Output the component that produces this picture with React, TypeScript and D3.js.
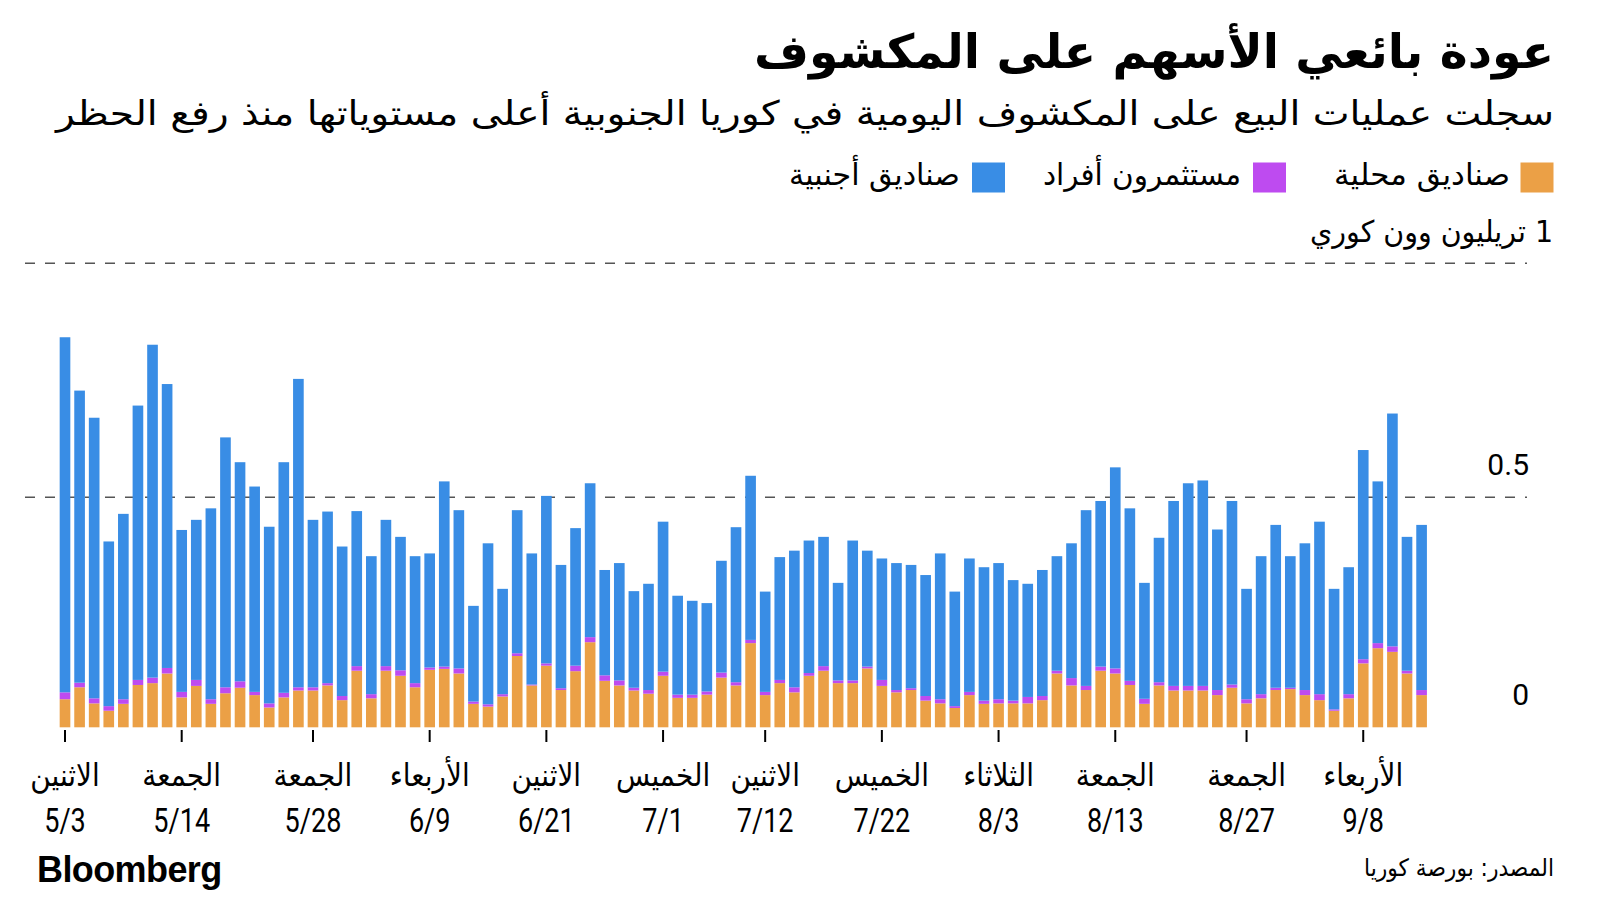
import React from "react";
import * as d3 from "d3";

const dates = [
  "5/3","5/4","5/6","5/7","5/10","5/11","5/12","5/13","5/14","5/17","5/18","5/20","5/21","5/24","5/25","5/26","5/27","5/28","5/31",
  "6/1","6/2","6/3","6/4","6/7","6/8","6/9","6/10","6/11","6/14","6/15","6/16","6/17","6/18","6/21","6/22","6/23","6/24","6/25","6/28","6/29","6/30",
  "7/1","7/2","7/5","7/6","7/7","7/8","7/9","7/12","7/13","7/14","7/15","7/16","7/19","7/20","7/21","7/22","7/23","7/26","7/27","7/28","7/29","7/30",
  "8/2","8/3","8/4","8/5","8/6","8/9","8/10","8/11","8/12","8/13","8/17","8/18","8/19","8/20","8/23","8/24","8/25","8/26","8/27","8/30","8/31",
  "9/1","9/2","9/3","9/6","9/7","9/8","9/9","9/10","9/13","9/14"
];

// صناديق محلية (domestic funds), 1 trillion won
const domestic = [
  0.061,0.087,0.052,0.036,0.051,0.092,0.096,0.117,0.065,0.090,0.051,0.074,0.086,0.070,0.043,0.065,0.080,0.080,0.091,
  0.059,0.123,0.063,0.123,0.112,0.087,0.125,0.127,0.117,0.051,0.045,0.067,0.155,0.091,0.134,0.081,0.122,0.185,0.101,0.091,0.080,
  0.073,0.112,0.064,0.064,0.071,0.108,0.091,0.183,0.070,0.096,0.076,0.112,0.123,0.096,0.096,0.128,0.090,0.076,0.081,0.058,0.052,0.042,
  0.070,0.051,0.052,0.052,0.052,0.059,0.117,0.091,0.081,0.123,0.117,0.092,0.051,0.091,0.080,0.080,0.080,0.070,0.086,0.052,0.063,
  0.081,0.083,0.070,0.059,0.036,0.063,0.139,0.172,0.164,0.117,0.070
];
// مستثمرون أفراد (individual investors)
const individual = [
  0.015,0.010,0.011,0.010,0.010,0.011,0.012,0.012,0.012,0.013,0.010,0.013,0.014,0.007,0.009,0.010,0.007,0.007,0.005,
  0.009,0.010,0.009,0.010,0.012,0.009,0.005,0.005,0.011,0.005,0.005,0.005,0.006,0.002,0.005,0.004,0.012,0.011,0.012,0.011,0.006,
  0.008,0.009,0.007,0.007,0.007,0.011,0.007,0.007,0.007,0.007,0.011,0.006,0.010,0.006,0.006,0.004,0.013,0.005,0.004,0.010,0.009,0.004,
  0.007,0.007,0.009,0.006,0.014,0.009,0.006,0.016,0.009,0.009,0.011,0.009,0.011,0.007,0.010,0.010,0.010,0.011,0.007,0.009,0.009,
  0.005,0.003,0.011,0.013,0.003,0.009,0.009,0.011,0.012,0.006,0.011
];
// صناديق أجنبية (foreign funds)
const foreign = [
  0.766,0.631,0.607,0.358,0.403,0.593,0.718,0.613,0.352,0.348,0.415,0.541,0.475,0.446,0.384,0.500,0.666,0.364,0.373,
  0.325,0.337,0.300,0.318,0.290,0.276,0.248,0.402,0.344,0.208,0.350,0.229,0.311,0.285,0.364,0.268,0.299,0.334,0.229,0.255,0.210,
  0.231,0.326,0.215,0.204,0.192,0.243,0.337,0.356,0.218,0.267,0.297,0.288,0.281,0.212,0.304,0.252,0.264,0.276,0.268,0.263,0.317,0.249,
  0.290,0.290,0.296,0.262,0.246,0.274,0.249,0.293,0.382,0.360,0.436,0.375,0.252,0.314,0.402,0.440,0.446,0.349,0.399,0.240,0.300,
  0.354,0.286,0.319,0.375,0.262,0.276,0.453,0.351,0.503,0.291,0.359
];

const tickDates = ["5/3","5/14","5/28","6/9","6/21","7/1","7/12","7/22","8/3","8/13","8/27","9/8"];
const tickDays = ["الاثنين","الجمعة","الجمعة","الأربعاء","الاثنين","الخميس","الاثنين","الخميس","الثلاثاء","الجمعة","الجمعة","الأربعاء"];
const yTicks = [0, 0.5, 1];
const yTickLabels = ["0", "0.5", "1 تريليون وون كوري"];

const seriesKeys = ["domestic", "individual", "foreign"];
const seriesNames = ["صناديق محلية", "مستثمرون أفراد", "صناديق أجنبية"];
const seriesColors = ["#eba046", "#be4bf0", "#398de5"];

const title = "عودة بائعي الأسهم على المكشوف";
const subtitle = "سجلت عمليات البيع على المكشوف اليومية في كوريا الجنوبية أعلى مستوياتها منذ رفع الحظر";
const source = "المصدر: بورصة كوريا";

const AR = "'DejaVu Sans Condensed', 'DejaVu Sans', sans-serif";
const NUM = "Roboto, 'Liberation Sans', sans-serif";

export default function App() {
  const n = dates.length;
  const rows = dates.map((d, i) => ({
    date: d,
    domestic: domestic[i],
    individual: individual[i],
    foreign: foreign[i],
  }));
  const stacked = d3.stack<any>().keys(seriesKeys)(rows);

  const step = 14.587;
  const x0 = 65 - step / 2;
  const x = d3
    .scaleBand<string>()
    .domain(dates)
    .range([x0, x0 + n * step])
    .paddingInner(0.27)
    .paddingOuter(0.135);
  const y = d3.scaleLinear().domain([0, 0.5, 1]).range([727.3, 497.3, 263.3]);

  return (
    <svg
      width={1600}
      height={900}
      style={{ position: "absolute", left: 0, top: 0, background: "#fff" }}
    >
      <rect x={0} y={0} width={1600} height={900} fill="#fff" />
      {/* Title */}
      <text x={1554} y={68} textAnchor="end" fontFamily={AR} fontWeight="bold" fontSize={47}
        textLength={800} lengthAdjust="spacingAndGlyphs" fill="#000">{title}</text>
      <text x={1554} y={125} textAnchor="end" fontFamily={AR} fontSize={34}
        textLength={1498} lengthAdjust="spacingAndGlyphs" fill="#000">{subtitle}</text>

      {/* Legend */}
      {[
        { sq: 1520.5, tx: 1510, w: 176 },
        { sq: 1253, tx: 1241, w: 198 },
        { sq: 972, tx: 960, w: 171 },
      ].map((p, i) => (
        <g key={i}>
          <rect x={p.sq} y={162.5} width={33} height={30} fill={seriesColors[i]} />
          <text x={p.tx} y={185} textAnchor="end" fontFamily={AR} fontSize={30}
            textLength={p.w} lengthAdjust="spacingAndGlyphs" fill="#000">{seriesNames[i]}</text>
        </g>
      ))}

      {/* Gridlines */}
      {yTicks.filter((t) => t > 0).map((t) => (
        <line key={t} x1={25} x2={1527} y1={y(t)} y2={y(t)} stroke="#555" strokeWidth={1.5}
          strokeDasharray="10,10" />
      ))}
      {/* Y labels */}
      {yTicks.map((t, i) =>
        i === 2 ? (
          <text key={t} x={1553} y={242} direction="rtl" textAnchor="start" fontFamily={AR} fontSize={30}
            textLength={243} lengthAdjust="spacingAndGlyphs" fill="#000">{yTickLabels[i]}</text>
        ) : (
          <text key={t} x={1529} y={y(t) - 22} textAnchor="end" fontFamily={NUM} fontSize={30} fill="#000">
            {yTickLabels[i]}
          </text>
        )
      )}

      {/* Bars */}
      {stacked.map((s, si) => (
        <g key={s.key} fill={seriesColors[si]}>
          {s.map((d, i) => (
            <rect key={i} x={x(dates[i])} width={x.bandwidth()} y={y(d[1])}
              height={Math.max(0, y(d[0]) - y(d[1]))} />
          ))}
        </g>
      ))}

      {/* X ticks and labels */}
      {tickDates.map((d, i) => {
        const cx = (x(d) as number) + x.bandwidth() / 2;
        return (
          <g key={d}>
            <line x1={cx} x2={cx} y1={730} y2={742} stroke="#000" strokeWidth={2} />
            <text x={cx} y={786} textAnchor="middle" fontFamily={AR} fontSize={31} fill="#000">{tickDays[i]}</text>
            <text transform={`translate(${cx},832) scale(0.82,1)`} textAnchor="middle" fontFamily={NUM}
              fontSize={33} fill="#000">{d}</text>
          </g>
        );
      })}

      {/* Footer */}
      <text x={37} y={882} fontFamily="'Liberation Sans', Arial, sans-serif" fontWeight="bold" fontSize={36}
        letterSpacing={-0.6} fill="#000">Bloomberg</text>
      <text x={1554} y={876} direction="rtl" textAnchor="start" fontFamily={AR} fontSize={24}
        textLength={190} lengthAdjust="spacingAndGlyphs" fill="#000">{source}</text>
    </svg>
  );
}
